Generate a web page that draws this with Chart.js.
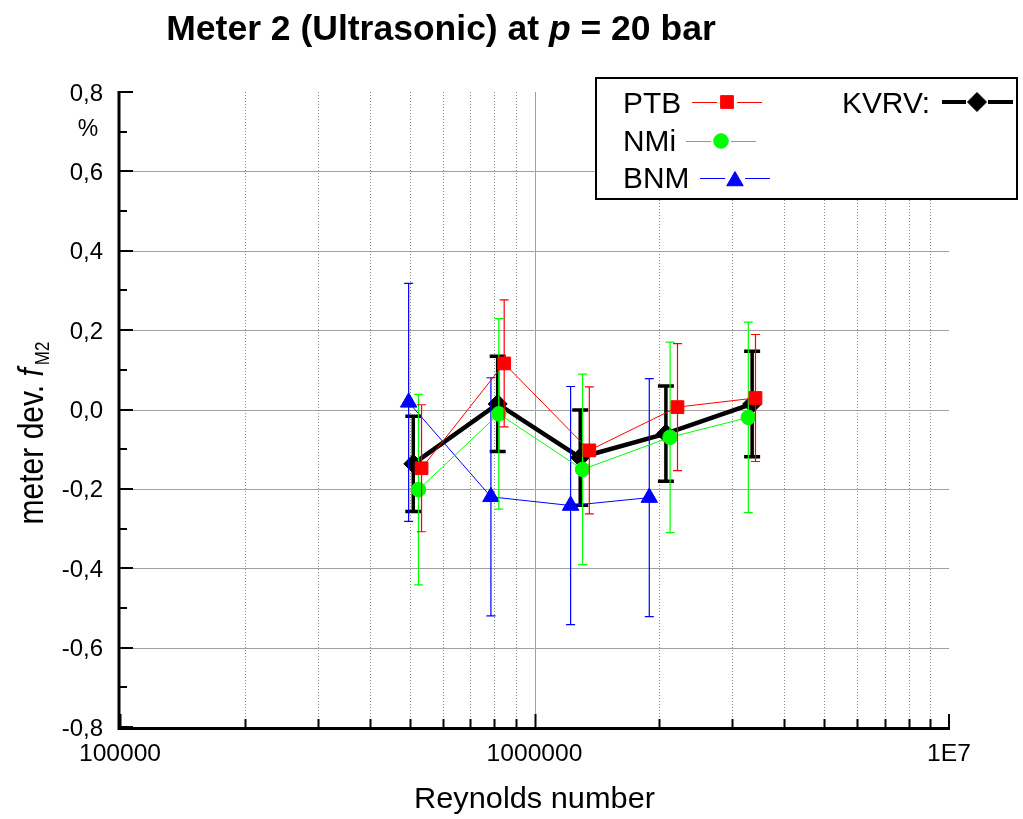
<!DOCTYPE html>
<html>
<head>
<meta charset="utf-8">
<script src="https://cdn.jsdelivr.net/npm/chart.js@4.4.0/dist/chart.umd.min.js"></script>
<style>
  html, body { margin: 0; padding: 0; background: #fff; }
  canvas { display: block; }
</style>
</head>
<body>
<canvas id="chart" width="1023" height="819"></canvas>
<script>
// Reynolds numbers, deviations (%) and expanded uncertainties per lab
const ptbRe  = [534000, 845000, 1356000, 2213000, 3413000];
const ptbDev = [-0.148, 0.116, -0.103, 0.006, 0.029];
const ptbErr = [0.16, 0.16, 0.16, 0.16, 0.16];

const nmiRe  = [525000, 820000, 1306000, 2124000, 3280000];
const nmiDev = [-0.202, -0.011, -0.151, -0.070, -0.020];
const nmiErr = [0.24, 0.24, 0.24, 0.24, 0.24];

const bnmRe  = [497000, 785000, 1222000, 1892000];
const bnmDev = [0.018, -0.220, -0.242, -0.222];
const bnmErr = [0.30, 0.30, 0.30, 0.30];

const kvrvRe  = [510000, 815000, 1289000, 2075000, 3350000];
const kvrvDev = [-0.137, 0.014, -0.121, -0.061, 0.014];
const kvrvErr = [0.12, 0.12, 0.12, 0.12, 0.133];

// axis ticks
const yTickValues = [0.8, 0.6, 0.4, 0.2, 0.0, -0.2, -0.4, -0.6, -0.8];
const yTickLabels = ['0,8', '0,6', '0,4', '0,2', '0,0', '-0,2', '-0,4', '-0,6', '-0,8'];
const yGridValues = [0.6, 0.4, 0.2, 0.0, -0.2, -0.4, -0.6];
const xTickValues = [1e5, 1e6, 1e7];
const xTickLabels = ['100000', '1000000', '1E7'];

const FONT = '"Liberation Sans", Arial, Helvetica, sans-serif';

function pts(xs, ys) {
    return xs.map((x, i) => ({ x: x, y: ys[i] }));
}

function txt(ctx, s, x, y, font, align, sx) {
    ctx.save();
    ctx.font = font;
    ctx.translate(x, y);
    ctx.scale(sx || 1, 1);
    ctx.textAlign = align || 'left';
    ctx.textBaseline = 'alphabetic';
    ctx.fillStyle = '#000';
    ctx.fillText(s, 0, 0);
    ctx.restore();
}

function marker(ctx, style, radius, color, x, y) {
    ctx.save();
    ctx.fillStyle = color;
    ctx.strokeStyle = color;
    ctx.lineWidth = 1;
    Chart.helpers.drawPoint(ctx, { pointStyle: style, radius: radius, rotation: 0, borderWidth: 1 }, x, y);
    ctx.restore();
}

// grid lines behind the data
const gridPlugin = {
    id: 'grid',
    beforeDatasetsDraw(chart) {
        const { ctx, chartArea: a, scales: { x, y } } = chart;
        ctx.save();
        ctx.strokeStyle = '#a0a0a0';
        ctx.lineWidth = 1;
        yGridValues.forEach(v => {
            const py = Math.round(y.getPixelForValue(v)) + 0.5;
            ctx.beginPath();
            ctx.moveTo(a.left, py);
            ctx.lineTo(a.right, py);
            ctx.stroke();
        });
        // minor decades, dotted
        ctx.strokeStyle = '#8c8c8c';
        ctx.setLineDash([1, 2]);
        [1e5, 1e6].forEach(dec => {
            for (let m = 2; m <= 9; m++) {
                const px = Math.round(x.getPixelForValue(m * dec)) + 0.5;
                ctx.beginPath();
                ctx.moveTo(px, a.top);
                ctx.lineTo(px, a.bottom);
                ctx.stroke();
            }
        });
        ctx.setLineDash([]);
        ctx.strokeStyle = '#a0a0a0';
        const p6 = Math.round(x.getPixelForValue(1e6)) + 0.5;
        ctx.beginPath();
        ctx.moveTo(p6, a.top);
        ctx.lineTo(p6, a.bottom);
        ctx.stroke();
        ctx.restore();
    }
};

// vertical error bars, drawn under each dataset's own line and markers
const errorBarPlugin = {
    id: 'errorBars',
    beforeDatasetDraw(chart, args) {
        const ds = chart.data.datasets[args.index];
        if (!ds.errors) return;
        const { ctx, scales: { x, y } } = chart;
        ctx.save();
        ctx.strokeStyle = ds.borderColor;
        ctx.lineWidth = ds.errWidth;
        ds.data.forEach((p, i) => {
            const px = x.getPixelForValue(p.x);
            const top = y.getPixelForValue(p.y + ds.errors[i]);
            const bot = y.getPixelForValue(p.y - ds.errors[i]);
            ctx.beginPath();
            ctx.moveTo(px, top);
            ctx.lineTo(px, bot);
            ctx.moveTo(px - ds.capHalf, top);
            ctx.lineTo(px + ds.capHalf, top);
            ctx.moveTo(px - ds.capHalf, bot);
            ctx.lineTo(px + ds.capHalf, bot);
            ctx.stroke();
        });
        ctx.restore();
    }
};

// axes, tick marks, labels, titles and legend
const framePlugin = {
    id: 'frame',
    afterDraw(chart) {
        const { ctx, chartArea: a, scales: { x, y } } = chart;
        ctx.save();
        ctx.strokeStyle = '#000';
        ctx.lineWidth = 3;
        ctx.beginPath();
        ctx.moveTo(a.left - 1, a.top - 1);
        ctx.lineTo(a.left - 1, a.bottom + 1.5);
        ctx.lineTo(a.right + 1, a.bottom + 1.5);
        ctx.stroke();

        // y tick marks (inside)
        ctx.lineWidth = 2;
        for (let k = -8; k <= 8; k++) {
            const py = Math.round(y.getPixelForValue(k / 10));
            const len = (k % 2 === 0) ? 13 : 7;
            ctx.beginPath();
            ctx.moveTo(a.left, py);
            ctx.lineTo(a.left + len, py);
            ctx.stroke();
        }
        // x tick marks (inside)
        [1e5, 1e6].forEach(dec => {
            for (let m = 1; m <= 9; m++) {
                const px = Math.round(x.getPixelForValue(m * dec)) + 0.5;
                const len = m === 1 ? 13 : 8;
                ctx.beginPath();
                ctx.moveTo(px, a.bottom);
                ctx.lineTo(px, a.bottom - len);
                ctx.stroke();
            }
        });
        const pEnd = Math.round(x.getPixelForValue(1e7));
        ctx.beginPath();
        ctx.moveTo(pEnd, a.bottom);
        ctx.lineTo(pEnd, a.bottom - 13);
        ctx.stroke();
        ctx.restore();

        // tick labels
        yTickValues.forEach((v, i) => {
            txt(ctx, yTickLabels[i], 103, y.getPixelForValue(v) + 8.5, '24px ' + FONT, 'right', 1.0);
        });
        txt(ctx, '%', 88, 136, '23px ' + FONT, 'center', 1.0);
        xTickValues.forEach((v, i) => {
            txt(ctx, xTickLabels[i], x.getPixelForValue(v), 761, '23px ' + FONT, 'center', 1.07);
        });

        // x title
        txt(ctx, 'Reynolds number', (a.left + a.right) / 2, 808, '29px ' + FONT, 'center', 1.06);

        // y title, rotated
        ctx.save();
        ctx.translate(43, 433);
        ctx.rotate(-Math.PI / 2);
        ctx.scale(1, 1.15);
        ctx.fillStyle = '#000';
        ctx.textBaseline = 'alphabetic';
        const f1 = '30px ' + FONT, f2 = 'italic 30px ' + FONT, f3 = '17px ' + FONT;
        ctx.font = f1; const w1 = ctx.measureText('meter dev. ').width;
        ctx.font = f2; const w2 = ctx.measureText('f').width + 3;
        ctx.font = f3; const w3 = ctx.measureText('M2').width;
        let sx = -(w1 + w2 + w3) / 2;
        ctx.font = f1; ctx.fillText('meter dev. ', sx, 0); sx += w1;
        ctx.font = f2; ctx.fillText('f', sx, 0); sx += w2;
        ctx.font = f3; ctx.fillText('M2', sx, 5);
        ctx.restore();

        // title
        ctx.save();
        ctx.fillStyle = '#000';
        ctx.textBaseline = 'alphabetic';
        const tb = 'bold 35.5px ' + FONT, ti = 'italic bold 35.5px ' + FONT;
        const parts = [['Meter 2 (Ultrasonic) at ', tb], ['p', ti], [' = 20 bar', tb]];
        let tw = 0;
        parts.forEach(p => { ctx.font = p[1]; tw += ctx.measureText(p[0]).width; });
        let tx = 441 - tw / 2;
        parts.forEach(p => { ctx.font = p[1]; ctx.fillText(p[0], tx, 40); tx += ctx.measureText(p[0]).width; });
        ctx.restore();

        // legend box
        ctx.save();
        ctx.fillStyle = '#fff';
        ctx.fillRect(596, 78, 421, 121);
        ctx.strokeStyle = '#000';
        ctx.lineWidth = 2;
        ctx.strokeRect(596, 78, 421, 121);
        ctx.restore();

        const lf = '29px ' + FONT;
        const items = [
            { label: 'PTB', ty: 113, x0: 692, x1: 762, ly: 102, color: '#ff0000', style: 'rect', r: 9, lw: 1, gap: 10 },
            { label: 'NMi', ty: 151, x0: 686, x1: 756, ly: 141, color: '#00ff00', style: 'circle', r: 7.3, lw: 1, gap: 10 },
            { label: 'BNM', ty: 188, x0: 700, x1: 770, ly: 178, color: '#0000ff', style: 'triangle', r: 9.5, lw: 1, gap: 10 }
        ];
        items.forEach(it => {
            txt(ctx, it.label, 623, it.ty, lf, 'left', 1.03);
            const cx = (it.x0 + it.x1) / 2;
            ctx.save();
            ctx.strokeStyle = it.color;
            ctx.lineWidth = it.lw;
            ctx.beginPath();
            ctx.moveTo(it.x0, it.ly + 0.5);
            ctx.lineTo(cx - it.gap, it.ly + 0.5);
            ctx.moveTo(cx + it.gap, it.ly + 0.5);
            ctx.lineTo(it.x1, it.ly + 0.5);
            ctx.stroke();
            ctx.restore();
            marker(ctx, it.style, it.r, it.color, cx, it.style === 'triangle' ? it.ly + 3 : it.ly);
        });
        txt(ctx, 'KVRV:', 842, 113, lf, 'left', 1.03);
        ctx.save();
        ctx.strokeStyle = '#000';
        ctx.lineWidth = 4;
        ctx.beginPath();
        ctx.moveTo(942, 102);
        ctx.lineTo(966, 102);
        ctx.moveTo(988, 102);
        ctx.lineTo(1013, 102);
        ctx.stroke();
        ctx.restore();
        marker(ctx, 'rectRot', 9.5, '#000', 977, 102);
    }
};

new Chart(document.getElementById('chart'), {
    type: 'scatter',
    data: {
        datasets: [
            {
                label: 'PTB', data: pts(ptbRe, ptbDev), errors: ptbErr,
                borderColor: '#ff0000', backgroundColor: '#ff0000', borderWidth: 1,
                pointStyle: 'rect', pointRadius: 9, pointBorderWidth: 1,
                showLine: true, errWidth: 1.2, capHalf: 4.5
            },
            {
                label: 'NMi', data: pts(nmiRe, nmiDev), errors: nmiErr,
                borderColor: '#00ff00', backgroundColor: '#00ff00', borderWidth: 1,
                pointStyle: 'circle', pointRadius: 7.3, pointBorderWidth: 1,
                showLine: true, errWidth: 1.2, capHalf: 4.5
            },
            {
                label: 'BNM', data: pts(bnmRe, bnmDev), errors: bnmErr,
                borderColor: '#0000ff', backgroundColor: '#0000ff', borderWidth: 1,
                pointStyle: 'triangle', pointRadius: 9.5, pointBorderWidth: 1,
                showLine: true, errWidth: 1.2, capHalf: 4.5
            },
            {
                label: 'KVRV', data: pts(kvrvRe, kvrvDev), errors: kvrvErr,
                borderColor: '#000000', backgroundColor: '#000000', borderWidth: 4.5,
                pointStyle: 'rectRot', pointRadius: 9.5, pointBorderWidth: 1,
                showLine: true, errWidth: 3.5, capHalf: 8
            }
        ]
    },
    options: {
        responsive: false,
        animation: false,
        layout: { padding: { left: 120, right: 74, top: 92, bottom: 92 } },
        scales: {
            x: { type: 'logarithmic', min: 1e5, max: 1e7, display: false },
            y: { type: 'linear', min: -0.8, max: 0.8, display: false }
        },
        plugins: {
            legend: { display: false },
            tooltip: { enabled: false }
        }
    },
    plugins: [gridPlugin, errorBarPlugin, framePlugin]
});
</script>
</body>
</html>
